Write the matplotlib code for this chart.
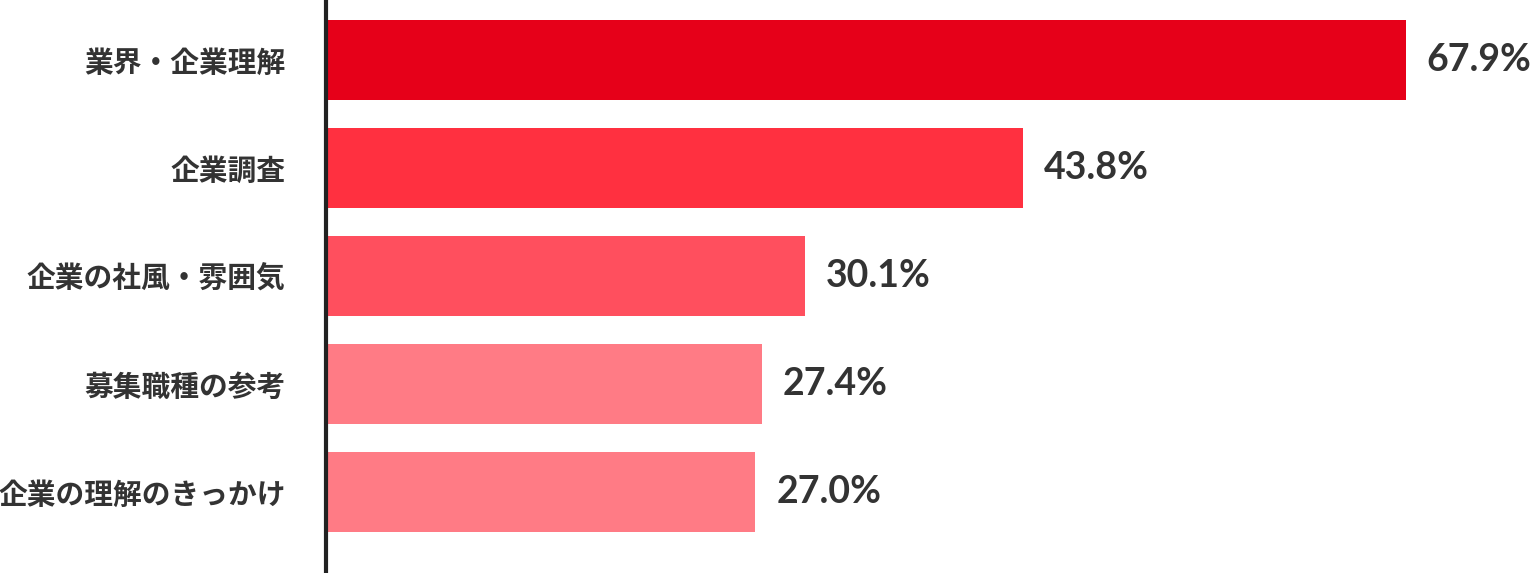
import matplotlib
matplotlib.use("Agg")
import matplotlib.pyplot as plt

categories = ["業界・企業理解", "企業調査", "企業の社風・雰囲気", "募集職種の参考", "企業の理解のきっかけ"]
values = [67.9, 43.8, 30.1, 27.4, 27.0]
colors = ["#E60019", "#FF3040", "#FF4F5E", "#FF7B85", "#FF7B85"]

W, H = 1534, 573
fig = plt.figure(figsize=(W / 100, H / 100), dpi=100)
ax = fig.add_axes([326 / W, 0, 1 - 326 / W, 1])

pos = list(range(len(categories)))
ax.barh(pos, values, height=80 / 108, color=colors, left=0)
ax.set_xlim(0, 67.9 * (W - 326) / (1406 - 326))
ax.set_ylim(4.75, -60 / 108)

for p, v in zip(pos, values):
    ax.text(v + 1.3, p, f"{v:.1f}%", va="center", ha="left",
            fontsize=27, fontweight="bold", color="#333333", family=["Lato", "DejaVu Sans"])

ax.set_yticks(pos)
ax.set_yticklabels(categories, fontsize=20.7, fontweight="bold", color="#333333",
                   family=["Noto Sans CJK JP", "DejaVu Sans"])
ax.tick_params(axis="y", length=0, pad=29)
ax.set_xticks([])
for s in ["top", "right", "bottom"]:
    ax.spines[s].set_visible(False)
ax.spines["left"].set_linewidth(3)
ax.spines["left"].set_color("#222222")

fig.savefig("out.png", dpi=100)
